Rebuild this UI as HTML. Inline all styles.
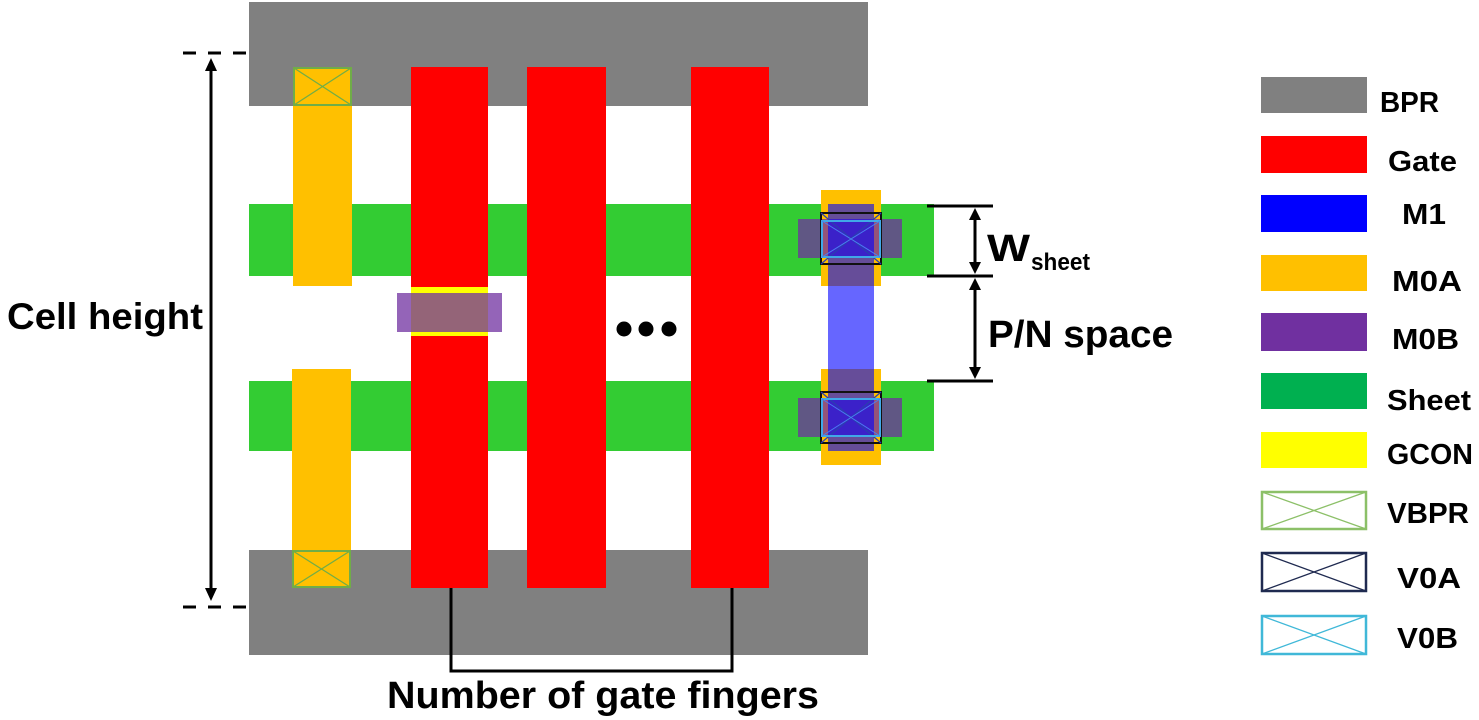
<!DOCTYPE html>
<html>
<head>
<meta charset="utf-8">
<style>
  html,body{margin:0;padding:0;background:#fff;}
  svg{display:block;}
  text{font-family:"Liberation Sans", Arial, sans-serif;font-weight:bold;fill:#000;}
</style>
</head>
<body>
<svg width="1479" height="720" viewBox="0 0 1479 720" xmlns="http://www.w3.org/2000/svg">
  <rect x="0" y="0" width="1479" height="720" fill="#fff"/>

  <!-- BPR rails -->
  <rect x="249" y="2" width="619" height="104" fill="#808080"/>
  <rect x="249" y="550" width="619" height="105" fill="#808080"/>

  <!-- Sheets -->
  <rect x="249" y="204" width="685" height="72" fill="#33cc33"/>
  <rect x="249" y="381" width="685" height="70" fill="#33cc33"/>

  <!-- Left M0A -->
  <rect x="293" y="67" width="59" height="219" fill="#ffc000"/>
  <rect x="292" y="369" width="59" height="219" fill="#ffc000"/>

  <!-- VBPR on left M0A -->
  <g fill="none" stroke="#70ad47">
    <rect x="294" y="68" width="57" height="37" stroke-width="2"/>
    <line x1="294" y1="68" x2="351" y2="105" stroke-width="1.3"/>
    <line x1="294" y1="105" x2="351" y2="68" stroke-width="1.3"/>
    <rect x="293" y="551" width="57" height="36" stroke-width="2"/>
    <line x1="293" y1="551" x2="350" y2="587" stroke-width="1.3"/>
    <line x1="293" y1="587" x2="350" y2="551" stroke-width="1.3"/>
  </g>

  <!-- Gates -->
  <rect x="411" y="67" width="77" height="521" fill="#ff0000"/>
  <rect x="527" y="67" width="79" height="521" fill="#ff0000"/>
  <rect x="691" y="67" width="78" height="521" fill="#ff0000"/>

  <!-- GCON + M0B left -->
  <rect x="411" y="287" width="77" height="49" fill="#ffff00"/>
  <rect x="397" y="293" width="105" height="39" fill="#7030a0" fill-opacity="0.75"/>

  <!-- dots -->
  <circle cx="624" cy="329" r="7.5" fill="#000"/>
  <circle cx="646" cy="329" r="7.5" fill="#000"/>
  <circle cx="669" cy="329" r="7.5" fill="#000"/>

  <!-- Right contact M0A -->
  <rect x="821" y="190" width="60" height="96" fill="#ffc000"/>
  <rect x="821" y="369" width="60" height="96" fill="#ffc000"/>
  <!-- M0B right -->
  <rect x="798" y="219" width="104" height="39" fill="#7030a0" fill-opacity="0.75"/>
  <rect x="798" y="398" width="104" height="39" fill="#7030a0" fill-opacity="0.75"/>
  <!-- M1 -->
  <rect x="828" y="204" width="46" height="247" fill="#0000ff" fill-opacity="0.6"/>

  <!-- V0A / V0B top -->
  <g fill="none">
    <rect x="821" y="213" width="60" height="51" stroke="#111" stroke-width="2"/>
    <line x1="821" y1="213" x2="881" y2="264" stroke="#2a3fb0" stroke-width="1.2"/>
    <line x1="821" y1="264" x2="881" y2="213" stroke="#2a3fb0" stroke-width="1.2"/>
    <rect x="822" y="221" width="58" height="36" stroke="#40a8e8" stroke-width="2"/>
    <line x1="822" y1="221" x2="880" y2="257" stroke="#4a7ff0" stroke-width="1"/>
    <line x1="822" y1="257" x2="880" y2="221" stroke="#4a7ff0" stroke-width="1"/>
  </g>
  <!-- V0A / V0B bottom -->
  <g fill="none">
    <rect x="821" y="392" width="60" height="51" stroke="#111" stroke-width="2"/>
    <line x1="821" y1="392" x2="881" y2="443" stroke="#2a3fb0" stroke-width="1.2"/>
    <line x1="821" y1="443" x2="881" y2="392" stroke="#2a3fb0" stroke-width="1.2"/>
    <rect x="822" y="399" width="58" height="37" stroke="#40a8e8" stroke-width="2"/>
    <line x1="822" y1="399" x2="880" y2="436" stroke="#4a7ff0" stroke-width="1"/>
    <line x1="822" y1="436" x2="880" y2="399" stroke="#4a7ff0" stroke-width="1"/>
  </g>

  <!-- Cell height dimension -->
  <g stroke="#000" stroke-width="3">
    <line x1="183" y1="53" x2="249" y2="53" stroke-dasharray="13,12"/>
    <line x1="183" y1="607" x2="249" y2="607" stroke-dasharray="13,12"/>
    <line x1="211" y1="66" x2="211" y2="593"/>
  </g>
  <polygon points="211,58 205,71 217,71" fill="#000"/>
  <polygon points="211,601 205,588 217,588" fill="#000"/>
  <text x="7" y="329" font-size="37" textLength="196" lengthAdjust="spacingAndGlyphs">Cell height</text>

  <!-- Gate finger bracket -->
  <polyline points="451,588 451,671 732,671 732,588" fill="none" stroke="#000" stroke-width="3"/>
  <text x="387" y="708" font-size="38" textLength="432" lengthAdjust="spacingAndGlyphs">Number of gate fingers</text>

  <!-- W_sheet and P/N space dimensions -->
  <g stroke="#000" stroke-width="3">
    <line x1="927" y1="206" x2="993" y2="206"/>
    <line x1="927" y1="276" x2="993" y2="276"/>
    <line x1="927" y1="381" x2="993" y2="381"/>
    <line x1="975" y1="216" x2="975" y2="266"/>
    <line x1="975" y1="286" x2="975" y2="371"/>
  </g>
  <polygon points="975,208 969,220 981,220" fill="#000"/>
  <polygon points="975,274 969,262 981,262" fill="#000"/>
  <polygon points="975,278 969,290 981,290" fill="#000"/>
  <polygon points="975,379 969,367 981,367" fill="#000"/>
  <text x="987" y="261" font-size="38" textLength="43" lengthAdjust="spacingAndGlyphs">W</text>
  <text x="1031" y="270" font-size="24" textLength="59" lengthAdjust="spacingAndGlyphs">sheet</text>
  <text x="988" y="347" font-size="38" textLength="185" lengthAdjust="spacingAndGlyphs">P/N space</text>

  <!-- Legend -->
  <rect x="1261" y="77" width="106" height="36" fill="#808080"/>
  <rect x="1261" y="136" width="106" height="37" fill="#ff0000"/>
  <rect x="1261" y="195" width="106" height="37" fill="#0000ff"/>
  <rect x="1261" y="255" width="106" height="36" fill="#ffc000"/>
  <rect x="1261" y="313" width="106" height="38" fill="#7030a0"/>
  <rect x="1261" y="373" width="106" height="36" fill="#00b050"/>
  <rect x="1261" y="432" width="106" height="36" fill="#ffff00"/>

  <g fill="none">
    <rect x="1262" y="492" width="104" height="37" stroke="#8cc068" stroke-width="2.5"/>
    <line x1="1262" y1="492" x2="1366" y2="529" stroke="#8cc068" stroke-width="1.3"/>
    <line x1="1262" y1="529" x2="1366" y2="492" stroke="#8cc068" stroke-width="1.3"/>
    <rect x="1262" y="553" width="104" height="38" stroke="#1f2a50" stroke-width="2.5"/>
    <line x1="1262" y1="553" x2="1366" y2="591" stroke="#1f2a50" stroke-width="1.3"/>
    <line x1="1262" y1="591" x2="1366" y2="553" stroke="#1f2a50" stroke-width="1.3"/>
    <rect x="1262" y="616" width="104" height="38" stroke="#40b8d8" stroke-width="2.5"/>
    <line x1="1262" y1="616" x2="1366" y2="654" stroke="#40b8d8" stroke-width="1.3"/>
    <line x1="1262" y1="654" x2="1366" y2="616" stroke="#40b8d8" stroke-width="1.3"/>
  </g>

  <g font-size="29">
    <text x="1380" y="112" textLength="59" lengthAdjust="spacingAndGlyphs">BPR</text>
    <text x="1388" y="171" textLength="69" lengthAdjust="spacingAndGlyphs">Gate</text>
    <text x="1402" y="224" textLength="44" lengthAdjust="spacingAndGlyphs">M1</text>
    <text x="1392" y="291" textLength="70" lengthAdjust="spacingAndGlyphs">M0A</text>
    <text x="1392" y="349" textLength="67" lengthAdjust="spacingAndGlyphs">M0B</text>
    <text x="1387" y="410" textLength="84" lengthAdjust="spacingAndGlyphs">Sheet</text>
    <text x="1387" y="464" textLength="86" lengthAdjust="spacingAndGlyphs">GCON</text>
    <text x="1387" y="523" textLength="82" lengthAdjust="spacingAndGlyphs">VBPR</text>
    <text x="1397" y="588" textLength="64" lengthAdjust="spacingAndGlyphs">V0A</text>
    <text x="1397" y="648" textLength="61" lengthAdjust="spacingAndGlyphs">V0B</text>
  </g>
</svg>
</body>
</html>
